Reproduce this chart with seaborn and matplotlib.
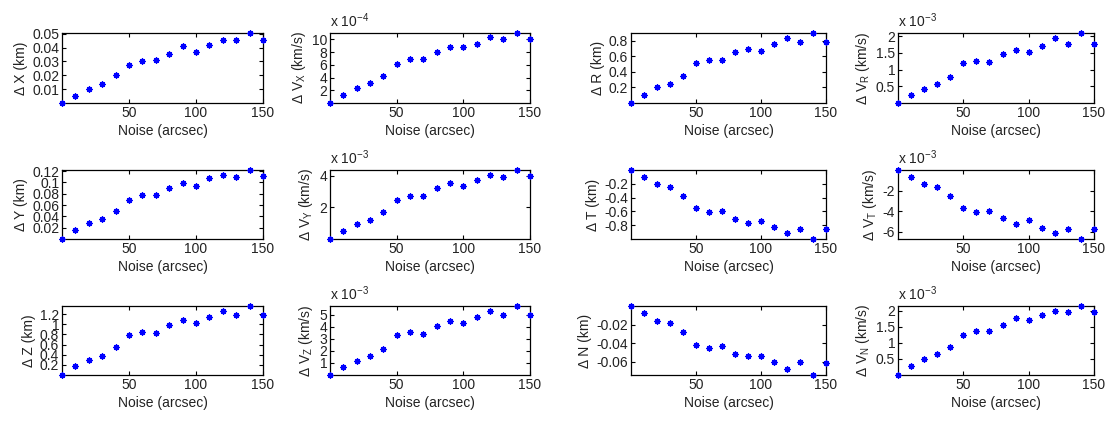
import matplotlib
matplotlib.use("Agg")
import matplotlib.pyplot as plt
import seaborn as sns
import numpy as np

sns.set_theme(style="ticks")
plt.rcParams['font.family'] = ['Liberation Sans', 'DejaVu Sans']
plt.rcParams['mathtext.fontset'] = 'custom'
plt.rcParams['mathtext.rm'] = 'Liberation Sans'
plt.rcParams['mathtext.it'] = 'Liberation Sans:italic'

noise = [0, 10, 20, 30, 40, 50, 60, 70, 80, 90, 100, 110, 120, 130, 140, 150]

# values (velocity panels in units of the shown exponent)
dX = [0, 0.0053, 0.0104, 0.0136, 0.0199, 0.0276, 0.030, 0.0308, 0.0356, 0.041,
      0.037, 0.042, 0.0458, 0.0458, 0.0505, 0.0458]
dVX = [0, 1.21, 2.42, 3.1, 4.3, 6.2, 6.9, 6.9, 7.95, 8.8, 8.8, 9.3, 10.3, 10.0, 11.0, 10.0]
dR = [0, 0.10, 0.20, 0.24, 0.35, 0.51, 0.55, 0.55, 0.65, 0.70, 0.67, 0.76, 0.83, 0.79, 0.90, 0.79]
dVR = [0, 0.23, 0.43, 0.56, 0.79, 1.18, 1.24, 1.21, 1.47, 1.57, 1.53, 1.69, 1.93, 1.77, 2.09, 1.77]
dY = [0, 0.0155, 0.028, 0.0356, 0.049, 0.0695, 0.077, 0.077, 0.090, 0.099, 0.0937, 0.107,
      0.1126, 0.109, 0.1218, 0.111]
dVY = [0, 0.48, 0.94, 1.21, 1.72, 2.45, 2.72, 2.72, 3.2, 3.54, 3.33, 3.75, 4.02, 3.9, 4.36, 3.96]
dT = [0, -0.095, -0.205, -0.25, -0.38, -0.55, -0.61, -0.60, -0.71, -0.77, -0.74, -0.83,
      -0.91, -0.86, -1.0, -0.86]
dVT = [0, -0.64, -1.37, -1.69, -2.55, -3.67, -4.09, -4.0, -4.7, -5.24, -4.89, -5.65,
       -6.07, -5.75, -6.7, -5.75]
dZ = [0, 0.17, 0.30, 0.38, 0.56, 0.79, 0.85, 0.83, 0.98, 1.09, 1.02, 1.15, 1.26, 1.19, 1.36, 1.19]
dVZ = [0, 0.67, 1.19, 1.56, 2.19, 3.28, 3.56, 3.44, 4.08, 4.47, 4.28, 4.81, 5.28, 5.0, 5.72, 5.0]
dN = [0, -0.0075, -0.016, -0.0186, -0.028, -0.0418, -0.045, -0.0425, -0.052, -0.054,
      -0.054, -0.060, -0.068, -0.060, -0.074, -0.061]
dVN = [0, 0.27, 0.49, 0.64, 0.88, 1.23, 1.37, 1.37, 1.56, 1.77, 1.70, 1.87, 2.0, 1.94, 2.14, 1.94]

panels = [
    (dX, r'Δ X (km)', None, [0.01, 0.02, 0.03, 0.04, 0.05]),
    (dVX, r'Δ V$_{\mathrm{X}}$ (km/s)', -4, [2, 4, 6, 8, 10]),
    (dR, r'Δ R (km)', None, [0.2, 0.4, 0.6, 0.8]),
    (dVR, r'Δ V$_{\mathrm{R}}$ (km/s)', -3, [0.5, 1, 1.5, 2]),
    (dY, r'Δ Y (km)', None, [0.02, 0.04, 0.06, 0.08, 0.1, 0.12]),
    (dVY, r'Δ V$_{\mathrm{Y}}$ (km/s)', -3, [2, 4]),
    (dT, r'Δ T (km)', None, [-0.8, -0.6, -0.4, -0.2]),
    (dVT, r'Δ V$_{\mathrm{T}}$ (km/s)', -3, [-6, -4, -2]),
    (dZ, r'Δ Z (km)', None, [0.2, 0.4, 0.6, 0.8, 1, 1.2]),
    (dVZ, r'Δ V$_{\mathrm{Z}}$ (km/s)', -3, [1, 2, 3, 4, 5]),
    (dN, r'Δ N (km)', None, [-0.06, -0.04, -0.02]),
    (dVN, r'Δ V$_{\mathrm{N}}$ (km/s)', -3, [0.5, 1, 1.5, 2]),
]

W, H = 1109, 424
fig = plt.figure(figsize=(W / 100, H / 100), dpi=100)
lefts = [62, 330, 631, 898]
rights = [263, 530, 826, 1094]
tops = [33, 170, 306]
bottoms = [103, 239, 375]
txt = '#222222'

for i, (vals, ylab, expo, yt) in enumerate(panels):
    r, c = divmod(i, 4)
    ax = fig.add_axes([lefts[c] / W, 1 - bottoms[r] / H,
                       (rights[c] - lefts[c]) / W, (bottoms[r] - tops[r]) / H])
    # matlab-like asterisk marker
    sns.scatterplot(x=noise, y=vals, ax=ax, marker=(8, 2, 0), s=14, color='blue',
                    edgecolor='blue', linewidth=1.1, clip_on=False, zorder=3)
    ax.set_xlim(0, 150)
    ax.set_ylim(min(vals), max(vals))
    ax.set_xticks([50, 100, 150])
    ax.set_yticks(yt)
    ax.set_yticklabels(['%g' % v for v in yt])
    ax.tick_params(direction='in', length=3, width=0.8, top=True, right=True,
                   labelsize=10, colors='black', labelcolor=txt, pad=2)
    for sp in ax.spines.values():
        sp.set_visible(True)
        sp.set_linewidth(0.9)
        sp.set_color('black')
    ax.set_xlabel('Noise (arcsec)', fontsize=10, color=txt, labelpad=3)
    ax.set_ylabel(ylab, fontsize=10, color=txt, labelpad=3)
    if expo is not None:
        ax.text(0, 1.04, r'x 10$^{%d}$' % expo, transform=ax.transAxes,
                fontsize=10, color=txt, va='bottom', ha='left')

fig.savefig('out.png', dpi=100)
